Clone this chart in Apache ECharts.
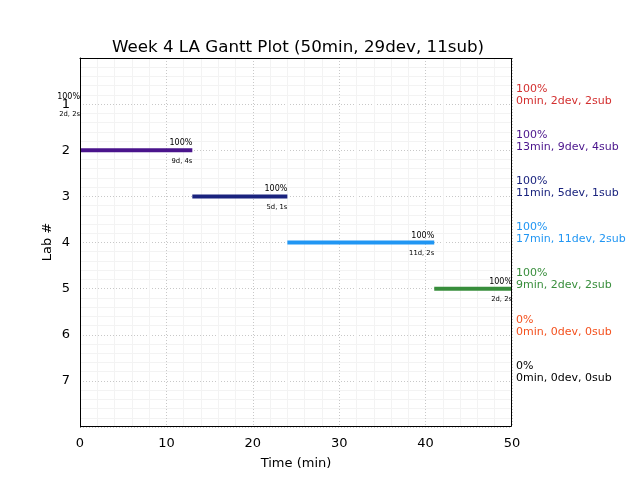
<!DOCTYPE html>
<html><head><meta charset="utf-8">
<script src="https://cdn.jsdelivr.net/npm/echarts@6/dist/echarts.min.js"></script>
<style>html,body{margin:0;padding:0;background:#fff}#c{width:640px;height:480px}</style>
</head><body><div id="c"></div>
<script>
var labs = [1, 2, 3, 4, 5, 6, 7];
var starts = [0, 0, 13, 24, 41, 50, 50];
var durations = [0, 13, 11, 17, 9, 0, 0];
var percents = [100, 100, 100, 100, 100, 0, 0];
var devs = [2, 9, 5, 11, 2, 0, 0];
var subs = [2, 4, 1, 2, 2, 0, 0];
var colors = ['#d32f2f', '#4a148c', '#1a237e', '#2196f3', '#388e3c', '#f4511e', '#000000'];
var xTicks = [0, 10, 20, 30, 40, 50];

var F = 'DejaVu Sans';
var rows = labs.map(function (l, i) { return [starts[i], starts[i] + durations[i], l, i]; });

var chart = echarts.init(document.getElementById('c'), null, {renderer: 'canvas'});
chart.setOption({
  animation: false,
  backgroundColor: '#fff',
  title: {text: 'Week 4 LA Gantt Plot (50min, 29dev, 11sub)', left: 293, top: 34, textAlign: 'center',
    textStyle: {fontFamily: F, fontSize: 16.7, fontWeight: 'normal', color: '#000'}},
  grid: {left: 80, right: 128, top: 58, bottom: 53, containLabel: false},
  graphic: [
    {type: 'rect', z: 100, silent: true,
      shape: {x: 80.5, y: 58.5, width: 431, height: 368}, style: {fill: 'none', stroke: '#000', lineWidth: 1}},
    {type: 'text', z: 100, silent: true, x: 48, y: 242, rotation: Math.PI / 2,
      style: {text: 'Lab #', align: 'center', verticalAlign: 'middle', fontFamily: F, fontSize: 13, fill: '#000'}}
  ],
  xAxis: {type: 'value', min: xTicks[0], max: xTicks[xTicks.length - 1], interval: 10,
    name: 'Time (min)', nameLocation: 'middle', nameGap: 30,
    nameTextStyle: {fontFamily: F, fontSize: 13, color: '#000'},
    axisLine: {show: true, lineStyle: {color: '#000'}}, axisTick: {show: false},
    axisLabel: {fontFamily: F, fontSize: 13, color: '#000', margin: 10},
    splitLine: {show: true, lineStyle: {color: '#c8c8c8', type: [1, 2], width: 1}},
    minorTick: {show: false, splitNumber: 5},
    minorSplitLine: {show: true, lineStyle: {color: '#f3f3f3', width: 1}}},
  yAxis: {type: 'value', min: 0, max: 8, interval: 1, inverse: true,
    axisLine: {show: true, lineStyle: {color: '#000'}}, axisTick: {show: false},
    axisLabel: {fontFamily: F, fontSize: 13, color: '#000', margin: 10, showMinLabel: false, showMaxLabel: false},
    splitLine: {show: true, lineStyle: {color: '#c8c8c8', type: [1, 2], width: 1}},
    minorTick: {show: false, splitNumber: 5},
    minorSplitLine: {show: true, lineStyle: {color: '#f3f3f3', width: 1}}},
  series: [{
    type: 'custom', clip: false,
    encode: {x: [0, 1], y: 2},
    data: rows,
    renderItem: function (params, api) {
      var i = api.value(3);
      var s = api.coord([api.value(0), api.value(2)]);
      var e = api.coord([api.value(1), api.value(2)]);
      var cs = params.coordSys;
      var right = cs.x + cs.width;
      var ex = Math.min(e[0], right);
      var ch = [];
      if (ex > s[0]) {
        ch.push({type: 'rect', shape: {x: s[0], y: s[1] - 2, width: ex - s[0], height: 4},
          style: {fill: colors[i]}});
      }
      if (percents[i] > 0) {
        ch.push({type: 'text', style: {text: percents[i] + '%', x: ex, y: s[1] - 3,
          align: 'right', verticalAlign: 'bottom', fontFamily: F, fontSize: 8, fill: '#000'}});
        ch.push({type: 'text', style: {text: devs[i] + 'd, ' + subs[i] + 's', x: ex, y: s[1] + 7,
          align: 'right', verticalAlign: 'top', fontFamily: F, fontSize: 6.8, fill: '#000'}});
      }
      ch.push({type: 'text', style: {text: percents[i] + '%\n' + durations[i] + 'min, ' + devs[i] + 'dev, ' + subs[i] + 'sub',
        x: right + 4, y: s[1] + 3, align: 'left', verticalAlign: 'bottom', lineHeight: 12,
        fontFamily: F, fontSize: 11, fill: colors[i]}});
      return {type: 'group', children: ch};
    }
  }]
});
</script></body></html>
